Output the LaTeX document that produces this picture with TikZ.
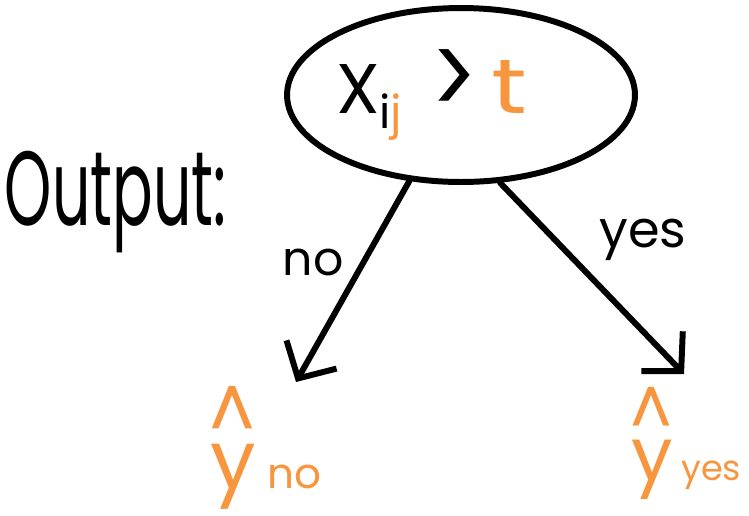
\documentclass[tikz,border=0pt]{standalone}
\usepackage{fontspec}
\usepackage{graphicx}
\setmainfont{Poppins}
\usetikzlibrary{arrows.meta,shapes.geometric}
\definecolor{accent}{HTML}{F7963F}
% y with a detached hat centred above it
\newcommand{\yhat}{\leavevmode\setbox0\hbox{y}\rlap{\hbox to\wd0{\hss\raisebox{0.56em}{\scalebox{0.9}[1]{\textasciicircum}}\hss}}\box0}
\begin{document}
\begin{tikzpicture}[x=0.02cm,y=-0.02cm,
  stroke/.style={line width=3.4pt, line cap=round, line join=round},
  branch/.style={stroke, -{Straight Barb[length=0.55cm,width=1.15cm]}},
  test/.style={ellipse, draw, line width=3.4pt, minimum width=6.96cm, minimum height=3.48cm, inner sep=0pt},
  txt/.style={inner sep=0pt, outer sep=0pt}]
\useasboundingbox (0,0) rectangle (749,515);

% decision node
\node[test] (root) at (461,95) {};
\node[txt, anchor=base west] (cond) at (336,113)
  {\fontsize{40}{40}\selectfont X{\fontsize{26}{26}\selectfont\raisebox{-0.35em}{i\textcolor{accent}{j}}}\hspace{0.4em}{\fontsize{40}{40}\selectfont\raisebox{-0.05em}{\scalebox{1.25}[1.6]{>}}}\hspace{0.2em}\textcolor{accent}{\scalebox{1.4}[1.1]{t}}};

% side title
\node[txt, anchor=base west] (title) at (5,225)
  {\scalebox{0.57}[1]{\fontsize{60}{60}\selectfont Output:}};

% predictions at the leaves
\node[txt, anchor=base west, text=accent] (yno) at (210,488)
  {\fontsize{46}{46}\selectfont\yhat\hspace{0.15em}{\fontsize{24}{24}\selectfont no}};
\node[txt, anchor=base west, text=accent] (yyes) at (631,480)
  {\fontsize{42}{42}\selectfont\yhat\hspace{0.12em}{\fontsize{20}{20}\selectfont yes}};

% branch end points
\coordinate (noend) at (296,382);
\coordinate (yesend) at (684,374);

\draw[branch] (root.239) -- (noend);
\draw[branch] (root.294) -- (yesend);

% branch labels
\node[txt] (nolab) at (313,262) {\fontsize{27}{27}\selectfont no};
\node[txt] (yeslab) at (643,240) {\fontsize{29}{29}\selectfont yes};
\end{tikzpicture}
\end{document}
